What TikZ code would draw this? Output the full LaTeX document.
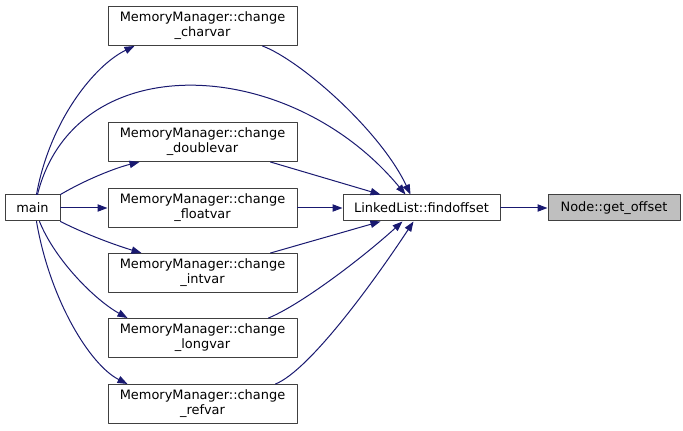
\documentclass[tikz,border=0pt]{standalone}
\usepackage{fontspec}
\setmainfont{DejaVu Sans}
\usepackage{tikz}
\usetikzlibrary{calc,arrows.meta}

\definecolor{edgeblue}{HTML}{191970}
\definecolor{boxline}{HTML}{404040}
\definecolor{boxgray}{HTML}{BFBFBF}

\begin{document}
\begin{tikzpicture}[x=0.75pt,y=-0.75pt,
  line cap=round,
  line join=round,
  every node/.style={font=\fontsize{9.7}{11.2}\selectfont},
  fnbox/.style={draw=boxline,line width=0.75pt,fill=white,inner sep=0pt,
    align=center},
  smallbox/.style={fnbox,minimum height=19.5pt},
  bigbox/.style={fnbox,minimum width=141.75pt,minimum height=29.25pt},
  call/.style={draw=edgeblue,line width=0.75pt,
    -{Triangle[length=7.5pt,width=5.5pt]}}]

  % 描画範囲
  \useasboundingbox (0,0) rectangle (683,431);

  % 関数ノード
  \node[smallbox,minimum width=41.25pt] (main) at (32.5,208) {main};

  \node[bigbox] (charvar)   at (202.5,26)  {MemoryManager::change\\\_charvar};
  \node[bigbox] (doublevar) at (202.5,142) {MemoryManager::change\\\_doublevar};
  \node[bigbox] (floatvar)  at (202.5,208) {MemoryManager::change\\\_floatvar};
  \node[bigbox] (intvar)    at (202.5,273) {MemoryManager::change\\\_intvar};
  \node[bigbox] (longvar)   at (202.5,338) {MemoryManager::change\\\_longvar};
  \node[bigbox] (refvar)    at (202.5,404) {MemoryManager::change\\\_refvar};

  \node[smallbox,minimum width=117.75pt] (find) at (421.5,208)
    {LinkedList::findoffset};
  \node[smallbox,minimum width=99pt,fill=boxgray] (getoff) at (614,208)
    {Node::get\_offset};

  % main から各関数へ
  \draw[call] ($(main.north)+(4,0)$)
    .. controls (50,120) and (95,65) .. ($(charvar.south west)+(27,0)$);
  \draw[call] ($(main.north)+(5,0)$)
    .. controls (75,45) and (290,55) .. ($(find.north west)+(63,0)$);
  \draw[call] (main.north east)
    .. controls (85,180) and (115,168) .. ($(doublevar.south west)+(32,0)$);
  \draw[call] (main.east) -- (floatvar.west);
  \draw[call] (main.south east)
    .. controls (85,234) and (115,245) .. ($(intvar.north west)+(34,0)$);
  \draw[call] ($(main.south)+(7,0)$)
    .. controls (55,260) and (95,300) .. ($(longvar.north west)+(20,0)$);
  \draw[call] ($(main.south)+(4,0)$)
    .. controls (50,300) and (90,365) .. ($(refvar.north west)+(20,0)$);

  % 各関数から findoffset へ
  \draw[call] ($(charvar.south west)+(155,0)$)
    .. controls (300,60) and (380,130) .. ($(find.north west)+(68,0)$);
  \draw[call] ($(doublevar.south west)+(163,0)$) -- ($(find.north west)+(38,0)$);
  \draw[call] (floatvar.east) -- (find.west);
  \draw[call] ($(intvar.north west)+(163,0)$) -- ($(find.south west)+(38,0)$);
  \draw[call] ($(longvar.north west)+(161,0)$)
    .. controls (300,305) and (360,260) .. ($(find.south west)+(60,0)$);
  \draw[call] ($(refvar.north west)+(168,0)$)
    .. controls (310,370) and (375,280) .. ($(find.south west)+(71,0)$);

  % findoffset から get_offset へ
  \draw[call] (find.east) -- (getoff.west);

\end{tikzpicture}
\end{document}
